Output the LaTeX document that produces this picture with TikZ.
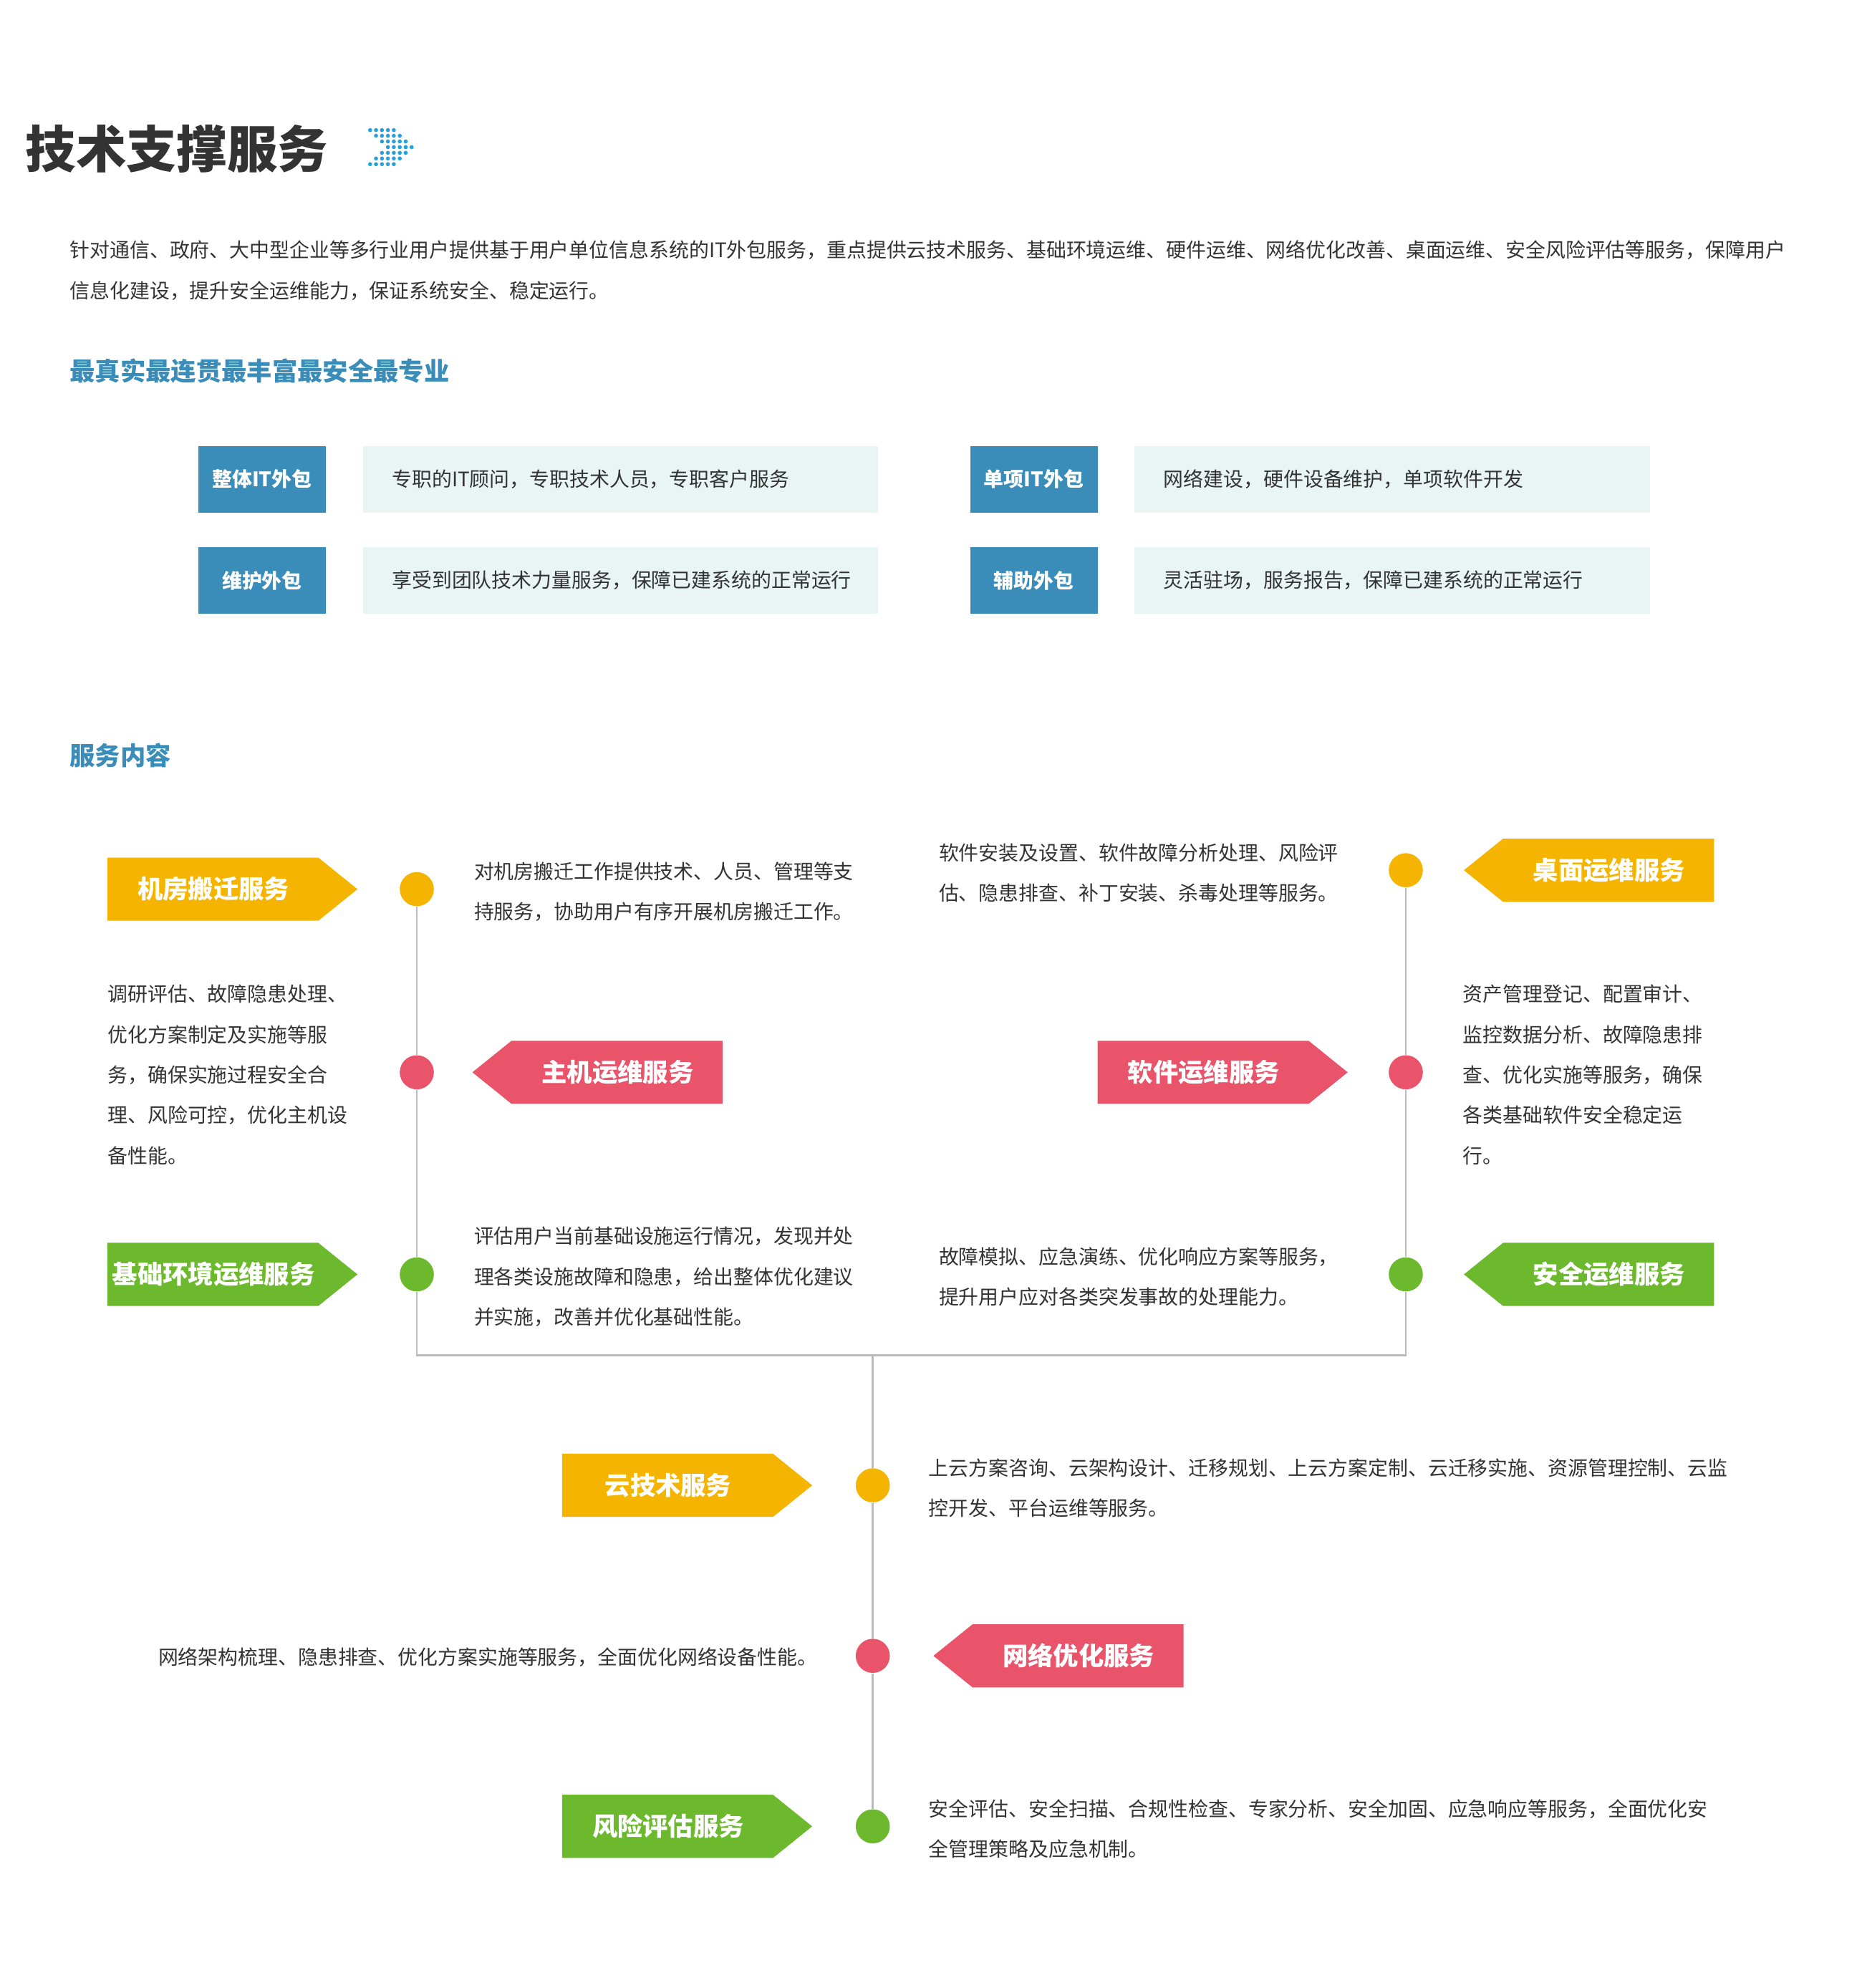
\documentclass[tikz,border=0pt]{standalone}
\usepackage{fontspec}
\setmainfont{Noto Sans CJK SC}
\usepackage{xcolor}
\usetikzlibrary{positioning,calc}
\definecolor{cyel}{HTML}{F5B400}
\definecolor{cred}{HTML}{E9546B}
\definecolor{cgrn}{HTML}{6DB92E}
\definecolor{cblu}{HTML}{3A8DB8}
\definecolor{clig}{HTML}{E9F4F5}
\definecolor{ctxt}{HTML}{333333}
\definecolor{cline}{HTML}{BBBBBB}
\definecolor{cicon}{HTML}{1FA3E0}
\tikzset{
    body/.style={anchor=west, align=left, inner sep=0pt, text=ctxt, font=\fontsize{9}{18.2}\selectfont},
    tag/.style={fill=cblu, text=white, minimum width=2.02cm, minimum height=1.06cm, font=\bfseries\fontsize{9}{10}\selectfont},
    tagtext/.style={fill=clig, text=ctxt, text width=7.24cm, minimum height=1.06cm, anchor=west, inner xsep=0.46cm, inner ysep=0pt, align=left, font=\fontsize{9}{10}\selectfont},
    dot/.style={circle, fill=#1, minimum size=0.54cm, inner sep=0pt},
    btext/.style={text=white, font=\bfseries\fontsize{11.4}{12}\selectfont, inner sep=0pt},
    head/.style={anchor=west, text=cblu, inner sep=0pt, font=\bfseries\fontsize{11.4}{12}\selectfont}
}
% banner pointing right / left: name, x, y, colour, text
\newcommand\bannerR[5]{%
    \fill[#4] (#2,#3-25) -- ++(167,0) -- ++(31,25) -- ++(-31,25) -- ++(-167,0) -- cycle;
    \node[btext] (#1) at (#2+84,#3) {#5};}
\newcommand\bannerL[5]{%
    \fill[#4] (#2,#3) -- ++(31,-25) -- ++(167,0) -- ++(0,50) -- ++(-167,0) -- cycle;
    \node[btext] (#1) at (#2+115,#3) {#5};}
\begin{document}
\begin{tikzpicture}[x=0.02cm, y=-0.02cm]
    \useasboundingbox[fill=white] (0,0) rectangle (1470,1574);

    % title
    \node[anchor=west, inner sep=0pt, text=ctxt, font=\bfseries\fontsize{22.7}{24}\selectfont] (title) at (20,118) {技术支撑服务};
    \foreach \r/\o in {0/0,1/1,2/2,3/3,4/2,5/1,6/0}
        \foreach \c in {0,...,4}
            \fill[cicon] (293+\o*4.7+\c*4.7,103+\r*4.5) circle (1.6);

    \node[body] (intro) at (55,214) {针对通信、政府、大中型企业等多行业用户提供基于用户单位信息系统的IT外包服务，重点提供云技术服务、基础环境运维、硬件运维、网络优化改善、桌面运维、安全风险评估等服务，保障用户\\信息化建设，提升安全运维能力，保证系统安全、稳定运行。};

    \node[head] (slogan) at (55,294) {最真实最连贯最丰富最安全最专业};

    % outsourcing table
    \node[tag] (t1) at (207.5,379.5) {整体IT外包};
    \node[tagtext] (d1) at (287,379.5) {专职的IT顾问，专职技术人员，专职客户服务};
    \node[tag] (t2) at (207.5,459.5) {维护外包};
    \node[tagtext] (d2) at (287,459.5) {享受到团队技术力量服务，保障已建系统的正常运行};
    \node[tag] (t3) at (818.5,379.5) {单项IT外包};
    \node[tagtext] (d3) at (898,379.5) {网络建设，硬件设备维护，单项软件开发};
    \node[tag] (t4) at (818.5,459.5) {辅助外包};
    \node[tagtext] (d4) at (898,459.5) {灵活驻场，服务报告，保障已建系统的正常运行};

    \node[head] (content) at (55,598) {服务内容};

    % timeline
    \coordinate (jl) at (330,1073);
    \coordinate (jr) at (1113,1073);
    \coordinate (jc) at (691,1073);
    \node[dot=cyel] (d11) at (330,704) {};
    \node[dot=cred] (d12) at (330,849) {};
    \node[dot=cgrn] (d13) at (330,1009) {};
    \node[dot=cyel] (d21) at (1113,689) {};
    \node[dot=cred] (d22) at (1113,849) {};
    \node[dot=cgrn] (d23) at (1113,1009) {};
    \node[dot=cyel] (d31) at (691,1176) {};
    \node[dot=cred] (d32) at (691,1311) {};
    \node[dot=cgrn] (d33) at (691,1446) {};
    \draw[cline, line width=0.8pt]
        (d11) -- (d12) (d12) -- (d13) (d13) -- (jl) -- (jr) -- (d23)
        (d23) -- (d22) (d22) -- (d21)
        (jc) -- (d31) (d31) -- (d32) (d32) -- (d33);

    % banners
    \bannerR{b11}{85}{704}{cyel}{机房搬迁服务}
    \bannerL{b12}{374}{849}{cred}{主机运维服务}
    \bannerR{b13}{85}{1009}{cgrn}{基础环境运维服务}
    \bannerL{b21}{1159}{689}{cyel}{桌面运维服务}
    \bannerR{b22}{869}{849}{cred}{软件运维服务}
    \bannerL{b23}{1159}{1009}{cgrn}{安全运维服务}
    \bannerR{b31}{445}{1176}{cyel}{云技术服务}
    \bannerL{b32}{739}{1311}{cred}{网络优化服务}
    \bannerR{b33}{445}{1446}{cgrn}{风险评估服务}

    % descriptions
    \node[body] (x11) at (375,706) {对机房搬迁工作提供技术、人员、管理等支\\持服务，协助用户有序开展机房搬迁工作。};
    \node[body] (x12) at (85,851) {调研评估、故障隐患处理、\\优化方案制定及实施等服\\务，确保实施过程安全合\\理、风险可控，优化主机设\\备性能。};
    \node[body] (x13) at (375,1011) {评估用户当前基础设施运行情况，发现并处\\理各类设施故障和隐患，给出整体优化建议\\并实施，改善并优化基础性能。};
    \node[body] (x21) at (743,691) {软件安装及设置、软件故障分析处理、风险评\\估、隐患排查、补丁安装、杀毒处理等服务。};
    \node[body] (x22) at (1158,851) {资产管理登记、配置审计、\\监控数据分析、故障隐患排\\查、优化实施等服务，确保\\各类基础软件安全稳定运\\行。};
    \node[body] (x23) at (743,1011) {故障模拟、应急演练、优化响应方案等服务，\\提升用户应对各类突发事故的处理能力。};
    \node[body] (x31) at (735,1178) {上云方案咨询、云架构设计、迁移规划、上云方案定制、云迁移实施、资源管理控制、云监\\控开发、平台运维等服务。};
    \node[body] (x32) at (125,1312) {网络架构梳理、隐患排查、优化方案实施等服务，全面优化网络设备性能。};
    \node[body] (x33) at (735,1448) {安全评估、安全扫描、合规性检查、专家分析、安全加固、应急响应等服务，全面优化安\\全管理策略及应急机制。};
\end{tikzpicture}
\end{document}
